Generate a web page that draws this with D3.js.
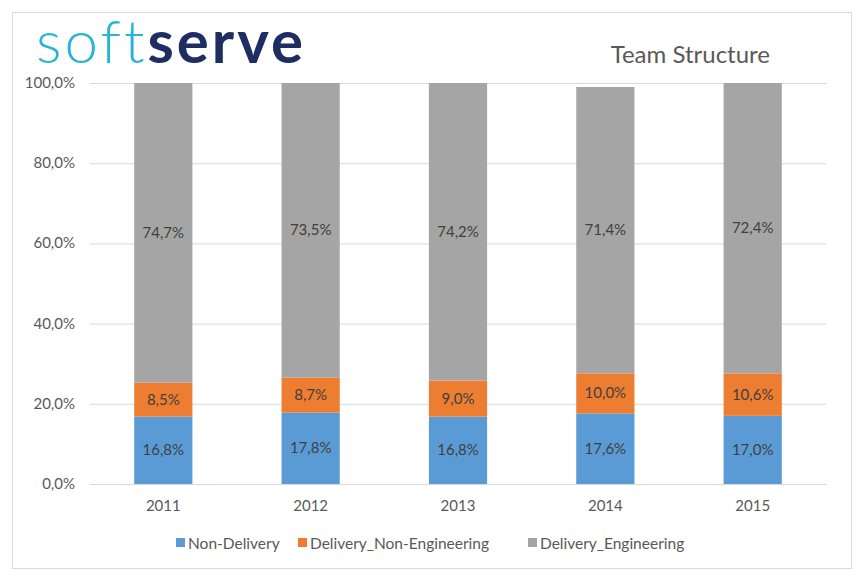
<!DOCTYPE html>
<html><head><meta charset="utf-8">
<script src="https://cdn.jsdelivr.net/npm/d3@7"></script>
<style>body{margin:0;background:#fff}svg{display:block}text{font-family:Lato,"Open Sans",sans-serif}</style>
</head><body><svg id="c" width="855" height="577"></svg>
<script>
const years = ["2011","2012","2013","2014","2015"];
const seriesNames = ["Non-Delivery","Delivery_Non-Engineering","Delivery_Engineering"];
const nonDelivery = [16.8,17.8,16.8,17.6,17.0];
const deliveryNonEng = [8.5,8.7,9.0,10.0,10.6];
const deliveryEng = [74.7,73.5,74.2,71.4,72.4];
const yTicks = [0,20,40,60,80,100];
const colors = ["#5b9bd5","#ed7d31","#a5a5a5"];

const svg = d3.select("#c");
svg.append("rect").attr("x",12.5).attr("y",12.5).attr("width",839).attr("height",556)
  .attr("fill","#fff").attr("stroke","#d9d9d9");

const x = d3.scaleBand().domain(years).range([90,826]).paddingInner(0.605).paddingOuter(0.3);
const y = d3.scaleLinear().domain([0,100]).range([484,83]);

svg.append("g").selectAll("line").data(yTicks).join("line")
  .attr("x1",90).attr("x2",826).attr("y1",d=>y(d)+0.5).attr("y2",d=>y(d)+0.5)
  .attr("stroke","#d9d9d9");

const fmt = v => v.toFixed(1).replace(".",",") + "%";
svg.append("g").selectAll("text").data(yTicks).join("text")
  .attr("x",75).attr("y",d=>y(d)+5).attr("text-anchor","end")
  .attr("font-size",15).attr("fill","#595959").text(fmt);
svg.append("g").selectAll("text").data(years).join("text")
  .attr("x",d=>x(d)+x.bandwidth()/2).attr("y",511).attr("text-anchor","middle")
  .attr("font-size",15).attr("fill","#595959").text(d=>d);

const rows = years.map((yr,i)=>({year:yr, "Non-Delivery":nonDelivery[i], "Delivery_Non-Engineering":deliveryNonEng[i], "Delivery_Engineering":deliveryEng[i]}));
const stack = d3.stack().keys(seriesNames)(rows);

stack.forEach((s,si)=>{
  const g = svg.append("g");
  g.selectAll("rect").data(s).join("rect")
    .attr("x",d=>x(d.data.year)).attr("width",x.bandwidth())
    .attr("y",d=>y(d[1])).attr("height",d=>y(d[0])-y(d[1]))
    .attr("fill",colors[si]);
  g.selectAll("text").data(s).join("text")
    .attr("x",d=>x(d.data.year)+x.bandwidth()/2)
    .attr("y",d=>(y(d[0])+y(d[1]))/2+5)
    .attr("text-anchor","middle").attr("font-size",15).attr("fill","#404040")
    .text(d=>fmt(d[1]-d[0]));
});

svg.append("text").attr("x",770).attr("y",63).attr("text-anchor","end")
  .attr("font-size",24).attr("fill","#595959").text("Team Structure");

const logo = svg.append("text").attr("x",36).attr("y",63).attr("font-size",60).attr("letter-spacing",3);
logo.append("tspan").attr("fill","#27b5d6").attr("font-weight",300).text("soft");
logo.append("tspan").attr("fill","#1f2d63").attr("font-weight",700).text("serve");

const lx = [176,298,528];
const lg = svg.append("g").selectAll("g").data(seriesNames).join("g")
  .attr("transform",(d,i)=>`translate(${lx[i]},0)`);
lg.append("rect").attr("x",0).attr("y",538).attr("width",9).attr("height",9).attr("fill",(d,i)=>colors[i]);
lg.append("text").attr("x",12).attr("y",549).attr("font-size",15.5).attr("fill","#595959").text(d=>d);
</script></body></html>
